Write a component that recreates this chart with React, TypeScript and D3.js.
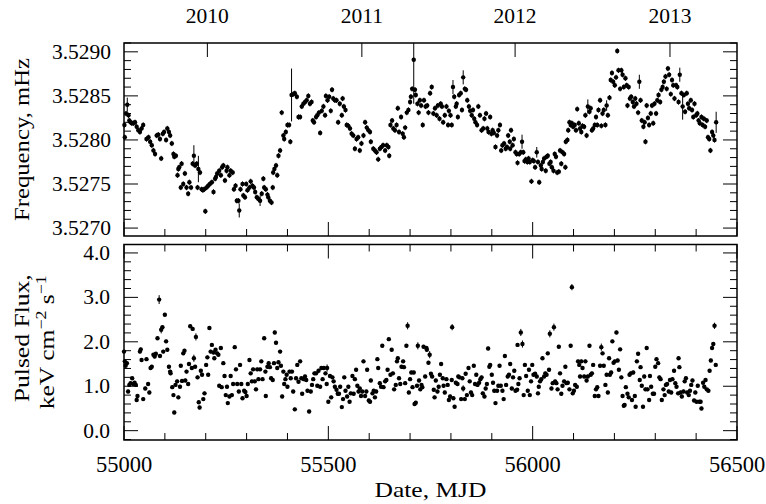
import { range, scaleLinear } from "d3";

// [MJD, frequency (mHz), error]  — error omitted means the usual small bar
const freqData: [number, number, number?][] = [
  [55001, 3.52817], [55002, 3.52803], [55005, 3.5283], [55008, 3.5284, 0.00008], [55011, 3.52828], [55013, 3.52822],
  [55016, 3.5282], [55019, 3.52819], [55023, 3.52819], [55027, 3.5282], [55031, 3.52815], [55035, 3.52811],
  [55039, 3.52809], [55043, 3.52813], [55047, 3.52817], [55055, 3.52801], [55060, 3.52803], [55064, 3.52798],
  [55068, 3.52794], [55072, 3.52788], [55076, 3.52784], [55080, 3.52805], [55084, 3.52806], [55088, 3.52801],
  [55091, 3.52779], [55095, 3.52807], [55098, 3.52809], [55103, 3.528], [55106, 3.52813], [55110, 3.52809],
  [55113, 3.52805], [55117, 3.52796], [55121, 3.52784], [55123, 3.52781], [55127, 3.52782], [55131, 3.5276],
  [55133, 3.52767], [55135, 3.52769], [55139, 3.52746], [55141, 3.52773], [55145, 3.5275], [55149, 3.52762],
  [55153, 3.52746], [55157, 3.52739], [55160, 3.52752], [55164, 3.52746], [55168, 3.52773], [55171, 3.52782, 0.00012],
  [55174, 3.52771], [55178, 3.52773], [55180, 3.52746], [55182, 3.52767, 0.00015], [55186, 3.52763], [55190, 3.52744],
  [55193, 3.52743], [55196, 3.52744], [55199, 3.52719], [55202, 3.52746], [55206, 3.52748], [55210, 3.5275],
  [55215, 3.52752], [55219, 3.52741], [55223, 3.52756], [55225, 3.52758], [55228, 3.52762], [55233, 3.52765],
  [55237, 3.5276], [55240, 3.52769], [55243, 3.52771], [55247, 3.52754], [55251, 3.52765], [55253, 3.52769],
  [55258, 3.5276], [55261, 3.52765], [55266, 3.52763], [55269, 3.52744], [55273, 3.52748], [55276, 3.52731],
  [55280, 3.52731], [55282, 3.5272, 0.00008], [55285, 3.52744], [55290, 3.5275], [55292, 3.52737], [55296, 3.52735],
  [55299, 3.5275], [55302, 3.52743], [55307, 3.52746], [55310, 3.52753], [55314, 3.52748], [55318, 3.52746],
  [55321, 3.52741], [55325, 3.52735], [55329, 3.52733], [55333, 3.52731, 0.00006], [55337, 3.52739], [55341, 3.52756],
  [55343, 3.52746], [55347, 3.52744], [55351, 3.52738], [55353, 3.52735], [55357, 3.52731], [55361, 3.52729],
  [55364, 3.52746], [55365, 3.52763], [55368, 3.52767], [55372, 3.52771], [55375, 3.5276], [55378, 3.52782],
  [55382, 3.52788], [55386, 3.52831], [55390, 3.52805], [55392, 3.52801], [55396, 3.52809], [55400, 3.52817],
  [55404, 3.52817], [55407, 3.52798], [55410, 3.52851, 0.0003], [55414, 3.52852], [55418, 3.52853], [55423, 3.52849],
  [55427, 3.52826], [55431, 3.52826], [55435, 3.52838], [55439, 3.52841], [55443, 3.52843], [55447, 3.52845],
  [55451, 3.5285], [55455, 3.52841], [55459, 3.52843], [55462, 3.52822], [55465, 3.5282], [55470, 3.52826],
  [55473, 3.52828], [55477, 3.52831], [55480, 3.52808], [55484, 3.52833], [55488, 3.52838], [55492, 3.52828],
  [55494, 3.5285], [55498, 3.52845], [55502, 3.52849], [55506, 3.52833], [55509, 3.52857], [55512, 3.52847],
  [55516, 3.52845], [55520, 3.52845], [55524, 3.5282], [55528, 3.52841], [55533, 3.52828], [55535, 3.52847],
  [55538, 3.52838], [55542, 3.52834], [55545, 3.52817], [55549, 3.52816], [55553, 3.52813], [55557, 3.52807],
  [55561, 3.52805], [55565, 3.5279], [55569, 3.52801], [55573, 3.52803], [55577, 3.52788], [55581, 3.52796],
  [55586, 3.52805], [55590, 3.5282], [55594, 3.52814], [55598, 3.52811], [55602, 3.52809], [55604, 3.52798],
  [55610, 3.5279], [55614, 3.52788], [55618, 3.52786], [55622, 3.52778], [55626, 3.5279], [55630, 3.52792],
  [55634, 3.52794], [55639, 3.52788], [55643, 3.52794], [55647, 3.52792], [55649, 3.52782],
  [55652, 3.52817], [55656, 3.52822], [55659, 3.52813], [55663, 3.52811], [55667, 3.52817], [55670, 3.52836],
  [55673, 3.52809], [55678, 3.52826], [55682, 3.52807], [55685, 3.52803], [55688, 3.52814], [55692, 3.52831],
  [55696, 3.52834], [55700, 3.52843], [55702, 3.52849], [55705, 3.52858], [55709, 3.52891, 0.0005], [55712, 3.52857],
  [55714, 3.52851], [55718, 3.52841], [55721, 3.52831], [55724, 3.52845], [55727, 3.52839], [55731, 3.52817],
  [55734, 3.52845], [55738, 3.52838], [55742, 3.52839], [55745, 3.52831], [55749, 3.52853], [55753, 3.5286],
  [55757, 3.5283], [55761, 3.52836], [55765, 3.52828], [55768, 3.52839], [55772, 3.52824], [55775, 3.52841],
  [55778, 3.52838], [55781, 3.5282], [55785, 3.52828], [55789, 3.52838], [55793, 3.52817], [55795, 3.52833],
  [55799, 3.52828], [55802, 3.52817], [55805, 3.5286, 0.00008], [55808, 3.52849], [55812, 3.52838], [55814, 3.52841],
  [55817, 3.52826], [55820, 3.52851], [55824, 3.52853], [55827, 3.52834], [55830, 3.52871, 0.00008], [55834, 3.52858],
  [55837, 3.52857], [55840, 3.52845], [55844, 3.52838], [55847, 3.52833], [55851, 3.52828], [55854, 3.52834],
  [55857, 3.52824], [55860, 3.5282], [55864, 3.52817], [55867, 3.52838], [55871, 3.52828], [55875, 3.52811],
  [55879, 3.52813], [55882, 3.52824], [55886, 3.5283], [55889, 3.52813], [55892, 3.52809], [55896, 3.52826],
  [55899, 3.52807], [55902, 3.52811], [55905, 3.52808], [55909, 3.52792], [55913, 3.52805], [55916, 3.52811],
  [55920, 3.52817], [55923, 3.52788], [55926, 3.52794], [55930, 3.52796], [55934, 3.5279], [55937, 3.52792],
  [55940, 3.52805], [55944, 3.52798],
  [55945, 3.5279], [55947, 3.52811], [55951, 3.52794], [55954, 3.52801], [55958, 3.52786], [55961, 3.52784],
  [55963, 3.52774], [55967, 3.52784], [55971, 3.52786], [55974, 3.52798, 0.00008], [55977, 3.52786], [55980, 3.52776],
  [55983, 3.52778], [55987, 3.52775], [55990, 3.52779], [55993, 3.52775], [55997, 3.52753], [56000, 3.52777],
  [56003, 3.52776], [56006, 3.52769], [56010, 3.52786, 0.00006], [56013, 3.52775], [56016, 3.52752], [56020, 3.52771],
  [56022, 3.52767], [56025, 3.52775], [56028, 3.52779], [56032, 3.52765], [56034, 3.52781], [56037, 3.52782],
  [56041, 3.52773], [56044, 3.52775], [56047, 3.52769], [56051, 3.52765], [56054, 3.52784], [56057, 3.52781],
  [56060, 3.52763], [56064, 3.52764], [56067, 3.52788], [56070, 3.52773], [56073, 3.52786], [56077, 3.52784],
  [56080, 3.52769], [56081, 3.52798], [56085, 3.528], [56087, 3.52811], [56090, 3.5282], [56093, 3.52817],
  [56096, 3.52819], [56099, 3.52815], [56103, 3.52817], [56106, 3.52811], [56109, 3.52835], [56113, 3.52819],
  [56116, 3.52813], [56119, 3.52809], [56122, 3.52816], [56126, 3.52815], [56129, 3.52828], [56132, 3.52805],
  [56135, 3.52838, 0.00008], [56139, 3.52832], [56142, 3.52836], [56145, 3.52811], [56148, 3.52813], [56152, 3.52817],
  [56155, 3.52826], [56158, 3.52817], [56161, 3.52834], [56165, 3.52845], [56168, 3.52816], [56171, 3.5283],
  [56174, 3.52834], [56178, 3.52817], [56181, 3.52839, 0.00006], [56184, 3.52828], [56188, 3.52848], [56191, 3.52868],
  [56194, 3.52876], [56197, 3.52866], [56201, 3.52862], [56204, 3.52871], [56207, 3.52901], [56210, 3.52879],
  [56214, 3.52858], [56217, 3.52879], [56220, 3.52874], [56223, 3.5286], [56227, 3.5287], [56230, 3.52862],
  [56232, 3.52839], [56235, 3.5286], [56238, 3.52847], [56241, 3.52849], [56245, 3.52843], [56248, 3.52838],
  [56251, 3.52847], [56254, 3.52841], [56258, 3.52831], [56261, 3.52866, 0.00008], [56264, 3.52845], [56267, 3.52822],
  [56271, 3.52815], [56274, 3.5282], [56276, 3.52798], [56279, 3.52839], [56282, 3.52825], [56285, 3.52817],
  [56289, 3.5283], [56292, 3.52839], [56295, 3.52819], [56298, 3.52841], [56302, 3.5283], [56305, 3.52845],
  [56308, 3.52851], [56312, 3.52843], [56315, 3.52857], [56318, 3.5286], [56321, 3.52866], [56325, 3.52872],
  [56328, 3.52858], [56331, 3.52881], [56334, 3.52874], [56338, 3.52852], [56341, 3.52868], [56344, 3.52862],
  [56347, 3.52847], [56351, 3.52862], [56354, 3.5286], [56357, 3.52843], [56360, 3.52874, 0.00008], [56364, 3.52853],
  [56367, 3.52838, 0.00015], [56370, 3.52851], [56373, 3.52832], [56377, 3.52853], [56380, 3.52841], [56383, 3.52836],
  [56387, 3.52845], [56390, 3.52834], [56393, 3.52826], [56396, 3.52841], [56400, 3.52828], [56403, 3.5283],
  [56406, 3.52822], [56409, 3.52819], [56413, 3.52826], [56416, 3.52817], [56419, 3.52824], [56422, 3.52815],
  [56426, 3.52822], [56429, 3.52803], [56432, 3.52801], [56435, 3.52788], [56439, 3.52809], [56442, 3.52805],
  [56445, 3.528], [56449, 3.5282, 0.00012],
];

// [MJD, pulsed flux (keV cm^-2 s^-1), error]
const fluxData: [number, number, number?][] = [
  [55000, 1.78], [55002, 1.56], [55004, 1.46], [55007, 1.52], [55010, 0.88], [55013, 1.03], [55016, 1.07],
  [55020, 1.18], [55023, 1.05], [55026, 1.08], [55029, 1.03], [55031, 0.69], [55033, 0.78], [55039, 1.78],
  [55041, 1.83], [55043, 1.59], [55047, 0.71], [55052, 0.95], [55055, 1.61], [55059, 1.05], [55062, 0.86],
  [55065, 1.41], [55068, 1.44], [55072, 1.71], [55075, 1.67], [55078, 1.73], [55082, 2.08], [55086, 2.95, 0.1],
  [55088, 1.68], [55091, 2.27, 0.08], [55094, 2.33], [55096, 1.78], [55100, 2.61], [55103, 2.01], [55106, 1.82],
  [55110, 1.44], [55113, 1.33], [55114, 1.29], [55118, 0.98], [55121, 0.8], [55123, 0.41], [55126, 1.03],
  [55130, 1.11], [55133, 0.75], [55137, 0.99], [55139, 1.46], [55142, 1.12], [55145, 1.74], [55148, 1.8],
  [55150, 1.13], [55153, 1.33], [55157, 1.05], [55159, 1.5], [55162, 2.35], [55166, 1.41], [55168, 2.29],
  [55171, 1.63, 0.08], [55174, 1.44], [55176, 2.11, 0.08], [55180, 1.2], [55183, 0.64], [55185, 0.52], [55188, 1.35],
  [55191, 1.26], [55194, 0.71], [55197, 0.84], [55201, 1.48], [55204, 1.65], [55206, 1.26], [55209, 2.31],
  [55212, 1.78], [55215, 1.93], [55219, 1.76], [55221, 1.63], [55224, 1.82], [55228, 1.74], [55231, 1.71],
  [55233, 1.01], [55237, 1.86], [55239, 0.98], [55243, 1.52], [55246, 1.23], [55249, 0.8], [55252, 0.99],
  [55254, 0.62], [55258, 0.77], [55261, 1.23], [55264, 0.8], [55267, 1.05], [55271, 1.88], [55274, 1.38],
  [55277, 1.05], [55281, 0.88], [55284, 1.48], [55287, 1.05], [55290, 0.73], [55294, 0.9], [55297, 0.87],
  [55300, 0.78], [55303, 1.05], [55307, 1.59], [55310, 1.29], [55313, 1.11], [55316, 1.38], [55320, 1.11],
  [55323, 0.93], [55326, 1.38], [55329, 1.16], [55333, 1.38], [55336, 1.56], [55339, 1.16], [55343, 2.08],
  [55346, 1.33], [55347, 0.78], [55351, 1.44], [55354, 1.52], [55357, 1.43], [55360, 1.18], [55364, 1.14],
  [55367, 1.52], [55369, 2.21], [55372, 1.98], [55375, 1.41], [55378, 1.54], [55382, 1.78], [55384, 1.46],
  [55387, 0.77], [55390, 1.33], [55392, 1.05], [55395, 1.16], [55398, 1.26], [55400, 0.99], [55405, 1.33],
  [55408, 1.18], [55411, 1.33], [55414, 0.88], [55418, 0.48], [55421, 1.18], [55424, 1.48], [55427, 1.1],
  [55431, 1.56], [55434, 1.18], [55436, 0.83], [55440, 1.16], [55443, 1.22], [55446, 1.14], [55449, 0.9],
  [55453, 0.43], [55457, 0.88], [55460, 1.03], [55463, 1.16], [55466, 1.29], [55470, 1.29], [55473, 1.01],
  [55476, 1.35], [55480, 0.99], [55483, 1.41], [55486, 1.16], [55489, 1.41], [55493, 1.29], [55496, 1.05],
  [55497, 1.41, 0.08], [55500, 0.65],
  [55504, 1.23], [55507, 0.75], [55510, 1.2], [55513, 1.11], [55516, 0.99], [55520, 0.92], [55523, 0.83],
  [55526, 0.83], [55529, 0.99], [55533, 0.53], [55536, 0.71], [55539, 1.2], [55542, 0.9], [55546, 0.77],
  [55549, 0.99], [55552, 0.65], [55555, 0.84], [55559, 1.23], [55562, 0.83], [55565, 1.16], [55568, 1.37],
  [55571, 1.01], [55574, 0.88], [55577, 0.95], [55580, 0.78], [55583, 0.88], [55586, 1.56], [55590, 0.78],
  [55593, 0.88], [55595, 1.37], [55599, 0.68], [55602, 0.65], [55604, 1.13], [55608, 0.84], [55611, 0.9],
  [55614, 0.75], [55617, 0.88], [55620, 1.61], [55622, 1.41], [55626, 1.07], [55629, 0.99], [55632, 1.91],
  [55635, 0.98], [55639, 1.11], [55642, 1.14], [55645, 1.37], [55648, 2.06], [55652, 1.26], [55655, 1.82],
  [55658, 1.29], [55661, 0.93], [55665, 1.03], [55668, 1.56], [55670, 1.63], [55673, 1.18], [55676, 1.05],
  [55679, 1.44], [55683, 1.56], [55685, 1.43], [55688, 1.07], [55691, 1.91], [55694, 2.36, 0.08], [55697, 0.86],
  [55700, 1.16], [55703, 1.31], [55706, 0.98], [55709, 1.31], [55711, 0.6], [55714, 0.63], [55717, 1.01],
  [55719, 1.91, 0.08], [55722, 1.13], [55725, 0.93], [55728, 1.03], [55730, 0.98], [55733, 1.89], [55737, 1.22],
  [55740, 1.86], [55741, 1.82], [55745, 1.53], [55748, 1.71, 0.08], [55751, 1.28], [55754, 1.22], [55758, 0.92],
  [55760, 0.75], [55763, 1.13], [55767, 0.88], [55770, 0.99], [55773, 1.26], [55776, 1.5], [55780, 1.18],
  [55782, 1.01], [55785, 0.86], [55789, 1.16], [55792, 1.03], [55795, 0.69], [55798, 0.77], [55802, 1.14],
  [55803, 2.33, 0.07], [55806, 0.73], [55809, 0.54], [55812, 1.08], [55816, 1.05], [55818, 1.22], [55821, 1.2],
  [55825, 0.71], [55828, 1.18], [55830, 0.95, 0.07], [55834, 0.71], [55836, 1.28], [55839, 0.8], [55843, 1.41],
  [55846, 1.11], [55849, 0.86], [55852, 0.8], [55856, 1.46], [55859, 1.05], [55862, 1.26], [55865, 1.03],
  [55869, 1.08], [55872, 1.16], [55875, 1.2], [55878, 0.84], [55882, 0.77], [55885, 0.95], [55888, 1.05],
  [55891, 1.85], [55894, 1.44], [55896, 1.48], [55900, 1.26], [55903, 1.08], [55906, 0.9], [55909, 0.62],
  [55913, 0.9], [55916, 1.01], [55919, 1.46], [55922, 1.01], [55926, 0.9], [55929, 0.71], [55932, 1.68],
  [55935, 1.03], [55939, 1.22], [55942, 1.26], [55945, 1.5], [55949, 0.95], [55952, 1.2], [55955, 1.35],
  [55958, 0.9], [55962, 0.92], [55963, 1.93], [55965, 1.05], [55968, 1.18], [55971, 2.21, 0.08], [55975, 1.95, 0.08],
  [55978, 0.8], [55981, 1.48], [55984, 1.23], [55988, 0.9], [55991, 1.37], [55993, 0.8], [55996, 1.11],
  [55999, 1.48], [56002, 1.26],
  [56006, 1.28], [56010, 1.22], [56013, 0.84], [56015, 0.99], [56018, 1.11], [56021, 1.16], [56024, 1.63],
  [56028, 1.22], [56031, 1.29], [56034, 1.26], [56037, 1.74], [56040, 1.37], [56042, 2.18, 0.08], [56046, 0.95],
  [56049, 1.07], [56052, 2.33, 0.08], [56055, 1.11], [56058, 1.07], [56061, 0.93], [56064, 1.89], [56067, 1.29],
  [56070, 0.83], [56073, 1.01], [56077, 1.11], [56080, 1.44], [56083, 1.07], [56086, 1.08], [56090, 0.93],
  [56093, 1.91], [56096, 3.23, 0.07], [56098, 0.84], [56101, 0.9], [56104, 1.03], [56108, 0.99], [56111, 1.56],
  [56114, 1.48], [56116, 1.22], [56119, 1.56], [56122, 1.41], [56126, 1.22], [56129, 1.56], [56132, 1.13],
  [56135, 1.22], [56139, 1.91], [56142, 1.26], [56145, 1.29], [56148, 1.48], [56152, 0.78], [56155, 0.93],
  [56158, 0.98], [56161, 0.78], [56165, 1.46], [56168, 1.88, 0.08], [56171, 1.74], [56174, 1.46], [56178, 1.03],
  [56181, 1.26], [56184, 0.86], [56187, 1.63], [56189, 1.26], [56192, 1.31], [56195, 2.01], [56198, 1.53],
  [56201, 1.56], [56205, 2.21], [56208, 1.58], [56211, 1.37], [56214, 1.83], [56217, 1.2], [56220, 0.78],
  [56223, 0.56], [56225, 0.58], [56228, 0.98], [56232, 0.83], [56235, 0.75], [56237, 1.26], [56240, 1.29],
  [56243, 0.69], [56246, 1.31], [56250, 0.78], [56252, 0.54], [56255, 1.56], [56258, 1.73], [56262, 1.14],
  [56264, 1.43], [56267, 1.01], [56270, 0.54], [56273, 1.22], [56276, 0.93], [56279, 1.86], [56281, 0.93],
  [56285, 0.69], [56287, 1.23], [56290, 0.99], [56294, 0.83], [56297, 0.83], [56300, 1.44], [56303, 1.61],
  [56307, 1.52], [56310, 1.2], [56313, 1.16], [56316, 0.69], [56320, 0.93], [56323, 0.8], [56326, 1.03],
  [56329, 1.05], [56333, 0.88], [56336, 1.14], [56339, 0.86], [56342, 1.16], [56346, 1.35], [56349, 1.07],
  [56352, 0.99], [56356, 0.84], [56357, 1.63], [56359, 1.43], [56362, 0.86], [56365, 0.77], [56369, 0.88],
  [56372, 1.11], [56375, 1.18], [56378, 0.86], [56382, 0.8], [56385, 0.9], [56388, 1.03], [56391, 1.13],
  [56395, 0.68], [56398, 0.86], [56401, 0.65], [56404, 1.01], [56408, 0.65], [56411, 0.65], [56413, 0.5],
  [56417, 1.08], [56420, 0.99], [56423, 1.14], [56426, 0.93], [56430, 0.9], [56433, 1.35], [56436, 1.58],
  [56439, 1.86], [56442, 1.95], [56445, 2.36, 0.07], [56448, 1.48],
];

const mjdMajor = [55000, 55500, 56000, 56500];
const freqMajor = [3.527, 3.5275, 3.528, 3.5285, 3.529];
const fluxMajor = [0, 1, 2, 3, 4];
const yearLabels = ["2010", "2011", "2012", "2013"];
const yearMjd = [55204, 55582, 55957, 56336];

const W = 766;
const H = 504;
const left = 124;
const right = 737;
const top1 = 43;
const bot1 = 236;
const top2 = 244.5;
const bot2 = 440;
const FONT = "'Liberation Serif', 'Times New Roman', serif";

const App = () => {
  const x = scaleLinear().domain([55000, 56500]).range([left, right]);
  const yF = scaleLinear().domain([3.52691, 3.5291]).range([bot1, top1]);
  const yP = scaleLinear().domain([-0.21, 4.19]).range([bot2, top2]);

  const mjdMinor = range(55000, 56501, 100);
  const freqMinor = range(35269, 35292).map((d) => d / 10000);
  const fluxMinor = range(-1, 21).map((d) => d / 5);

  const tick = (x1: number, y1: number, x2: number, y2: number, k: string) => (
    <line key={k} x1={x1} y1={y1} x2={x2} y2={y2} stroke="#000" strokeWidth={1} />
  );

  const yTicks = (scale: any, minor: number[], major: number[], t: number, b: number, id: string) => {
    const out: any[] = [];
    minor.forEach((v, i) => {
      const yy = scale(v);
      if (yy < t - 0.5 || yy > b + 0.5) return;
      const isMajor = major.some((m) => Math.abs(m - v) < 1e-9);
      const len = isMajor ? 14 : 7;
      out.push(tick(left, yy, left + len, yy, `${id}l${i}`));
      out.push(tick(right, yy, right - len, yy, `${id}r${i}`));
    });
    return out;
  };

  const xTicks = (yy: number, dir: number, id: string) =>
    mjdMinor.map((v, i) => {
      const len = mjdMajor.includes(v) ? 14 : 7;
      return tick(x(v), yy, x(v), yy + dir * len, `${id}${i}`);
    });

  const marks = (data: [number, number, number?][], scale: any, defErr: number, t: number, b: number, id: string) =>
    data.map(([m, v, e], i) => {
      const err = e ?? defErr;
      const yTop = Math.max(t, scale(v + err));
      const yBot = Math.min(b, scale(v - err));
      return (
        <g key={`${id}${i}`}>
          <line x1={x(m)} x2={x(m)} y1={yTop} y2={yBot} stroke="#000" strokeWidth={1} />
          <circle cx={x(m)} cy={scale(v)} r={2.2} fill="#000" />
        </g>
      );
    });

  return (
    <svg width={W} height={H} style={{ position: "absolute", left: 0, top: 0, background: "#fff" }} fontFamily={FONT}>
      <rect x={0} y={0} width={W} height={H} fill="#fff" />

      {/* top panel */}
      {marks(freqData, yF, 0.00003, top1, bot1, "f")}
      {yTicks(yF, freqMinor, freqMajor, top1, bot1, "fy")}
      {xTicks(bot1, -1, "fxb")}
      {yearMjd.map((m, i) => tick(x(m), top1, x(m), top1 + 14, `yr${i}`))}
      <rect x={left} y={top1} width={right - left} height={bot1 - top1} fill="none" stroke="#000" strokeWidth={1.5} />
      {freqMajor.map((v) => (
        <text key={`fl${v}`} x={111} y={yF(v) + 7} fontSize={21.5} textAnchor="end">
          {v.toFixed(4)}
        </text>
      ))}
      {yearLabels.map((l, i) => (
        <text key={`yl${l}`} x={x(yearMjd[i])} y={23} fontSize={21.5} textAnchor="middle">
          {l}
        </text>
      ))}

      {/* bottom panel */}
      {marks(fluxData, yP, 0.04, top2, bot2, "p")}
      {yTicks(yP, fluxMinor, fluxMajor, top2, bot2, "py")}
      {xTicks(top2, 1, "pxt")}
      {xTicks(bot2, -1, "pxb")}
      <rect x={left} y={top2} width={right - left} height={bot2 - top2} fill="none" stroke="#000" strokeWidth={1.5} />
      {fluxMajor.map((v) => (
        <text key={`pl${v}`} x={110} y={yP(v) + 7} fontSize={21.5} textAnchor="end">
          {v.toFixed(1)}
        </text>
      ))}
      {mjdMajor.map((m) => (
        <text key={`xl${m}`} x={x(m)} y={472} fontSize={22.5} textAnchor="middle">
          {m}
        </text>
      ))}

      {/* axis titles */}
      <text
        transform={`translate(29,${(top1 + bot1) / 2}) rotate(-90)`}
        fontSize={21.5}
        textAnchor="middle"
        textLength={163}
        lengthAdjust="spacingAndGlyphs"
      >
        Frequency, mHz
      </text>
      <text
        transform={`translate(29,${(top2 + bot2) / 2 - 4}) rotate(-90)`}
        fontSize={21.5}
        textAnchor="middle"
        textLength={128}
        lengthAdjust="spacingAndGlyphs"
      >
        Pulsed Flux,
      </text>
      <text
        transform={`translate(54,${(top2 + bot2) / 2}) rotate(-90)`}
        fontSize={21.5}
        textAnchor="middle"
        textLength={134}
        lengthAdjust="spacingAndGlyphs"
      >
        keV cm
        <tspan dy={-8} fontSize={15}>
          −2
        </tspan>
        <tspan dy={8}> s</tspan>
        <tspan dy={-8} fontSize={15}>
          −1
        </tspan>
      </text>
      <text x={(left + right) / 2} y={497} fontSize={21.5} textAnchor="middle" textLength={112} lengthAdjust="spacingAndGlyphs">
        Date, MJD
      </text>
    </svg>
  );
};

export default App;
